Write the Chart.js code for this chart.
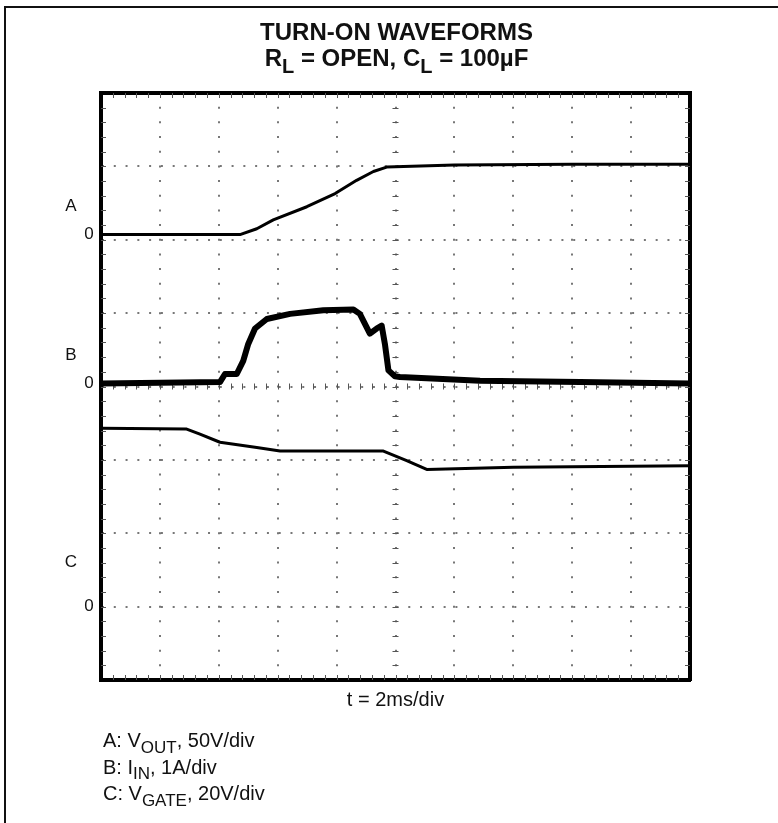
<!DOCTYPE html>
<html lang="en">
<head>
<meta charset="UTF-8">
<title>Turn-On Waveforms</title>
<script src="https://cdn.jsdelivr.net/npm/chart.js"></script>
<style>
  body { margin: 0; background: #fff; }
  .frame { position: absolute; left: 4px; top: 6px; width: 790px; height: 830px; border-left: 2px solid #111; border-top: 2px solid #111; }
  #scope { position: absolute; left: 0; top: 0; }
</style>
</head>
<body>
<div class="frame"></div>
<canvas id="scope" width="778" height="823"></canvas>
<script>
// x = time in ms (2ms/div, 10 div), y = screen divisions (0 = bottom, 8 = top)
const timeA  = [0, 4.72, 5.29, 5.85, 6.99, 7.95, 8.68, 9.25, 9.70, 12.0, 16.0, 20];
const levelA = [6.07, 6.07, 6.15, 6.27, 6.45, 6.63, 6.81, 6.93, 6.99, 7.02, 7.03, 7.03];

const timeB  = [0, 4.04, 4.21, 4.61, 4.83, 5.0, 5.23, 5.63, 6.42, 7.55, 8.57, 8.79, 9.13, 9.36, 9.53, 9.64, 9.76, 9.98, 10.15, 12.87, 16.27, 20];
const levelB = [4.04, 4.06, 4.17, 4.17, 4.35, 4.58, 4.79, 4.92, 4.99, 5.04, 5.05, 4.99, 4.72, 4.79, 4.83, 4.58, 4.22, 4.14, 4.13, 4.08, 4.06, 4.04];

const timeC  = [0, 2.91, 3.36, 4.04, 5.29, 6.08, 9.59, 10.38, 11.06, 14.0, 20];
const levelC = [3.43, 3.42, 3.35, 3.24, 3.17, 3.12, 3.12, 2.99, 2.87, 2.90, 2.92];

const channels     = ['A', 'B', 'C'];
const zeroLevels   = [6.07, 4.04, 1.0];
const letterLevels = [6.45, 4.42, 1.6];

const xMax = 20, xStep = 2;   // 2ms/div
const yMax = 8,  yStep = 1;

// [text, subscript?]
const titleLines = [
  [['TURN-ON WAVEFORMS', false]],
  [['R', false], ['L', true], [' = OPEN, C', false], ['L', true], [' = 100µF', false]]
];
const legendLines = [
  [['A: V', false], ['OUT', true], [', 50V/div', false]],
  [['B: I', false], ['IN', true], [', 1A/div', false]],
  [['C: V', false], ['GATE', true], [', 20V/div', false]]
];

const FONT = '"Liberation Sans", Arial, sans-serif';

function toPoints(xs, ys) {
  return xs.map((x, i) => ({ x: x, y: ys[i] }));
}

function drawRich(ctx, parts, x, y, size, weight, align, subRatio) {
  const subSize = Math.round(size * (subRatio || 0.82));
  let w = 0;
  parts.forEach(p => {
    ctx.font = weight + ' ' + (p[1] ? subSize : size) + 'px ' + FONT;
    w += ctx.measureText(p[0]).width;
  });
  let cx = align === 'center' ? x - w / 2 : x;
  ctx.textAlign = 'left';
  ctx.textBaseline = 'alphabetic';
  parts.forEach(p => {
    ctx.font = weight + ' ' + (p[1] ? subSize : size) + 'px ' + FONT;
    ctx.fillText(p[0], cx, p[1] ? y + size * 0.28 : y);
    cx += ctx.measureText(p[0]).width;
  });
}

const scopeDecor = {
  id: 'scopeDecor',
  beforeDatasetsDraw(chart) {
    const ctx = chart.ctx;
    const xs = chart.scales.x, ys = chart.scales.y;
    const a = chart.chartArea;
    const cx = xs.getPixelForValue(xMax / 2), cy = ys.getPixelForValue(yMax / 2);
    ctx.save();
    ctx.strokeStyle = '#555';
    ctx.lineWidth = 1;
    ctx.beginPath();
    for (let i = 1; i < 50; i++) {
      const px = Math.round(xs.getPixelForValue(i * xStep / 5)) + 0.5;
      ctx.moveTo(px, a.top); ctx.lineTo(px, a.top + 5);
      ctx.moveTo(px, a.bottom); ctx.lineTo(px, a.bottom - 5);
      ctx.moveTo(px, cy - 3); ctx.lineTo(px, cy + 3);
    }
    for (let i = 1; i < 40; i++) {
      const py = Math.round(ys.getPixelForValue(i * yStep / 5)) + 0.5;
      ctx.moveTo(a.left, py); ctx.lineTo(a.left + 5, py);
      ctx.moveTo(a.right, py); ctx.lineTo(a.right - 5, py);
      ctx.moveTo(cx - 3, py); ctx.lineTo(cx + 3, py);
    }
    ctx.stroke();
    ctx.restore();
  },
  afterDraw(chart) {
    const ctx = chart.ctx;
    const ys = chart.scales.y;
    const a = chart.chartArea;
    const mid = (a.left + a.right) / 2;
    ctx.save();
    ctx.fillStyle = '#111';
    drawRich(ctx, titleLines[0], mid + 1, 40, 24, 'bold', 'center');
    drawRich(ctx, titleLines[1], mid + 1, 66, 24, 'bold', 'center');

    ctx.font = '17px ' + FONT;
    ctx.textAlign = 'center';
    ctx.textBaseline = 'middle';
    channels.forEach((name, i) => {
      ctx.fillText(name, a.left - 30, ys.getPixelForValue(letterLevels[i]));
      ctx.fillText('0', a.left - 12, ys.getPixelForValue(zeroLevels[i]));
    });

    legendLines.forEach((line, i) => {
      drawRich(ctx, line, a.left + 2, 747 + i * 26.5, 20, 'normal', 'left', 0.85);
    });
    ctx.restore();
  }
};

const dotGrid = (count, axis) => ctx => {
  const area = ctx.chart.chartArea;
  const len = axis === 'y' ? area.bottom - area.top : area.right - area.left;
  const gap = len / (count * 5);
  return [2, gap - 2];
};

new Chart(document.getElementById('scope'), {
  type: 'line',
  data: {
    datasets: [
      { label: 'A', data: toPoints(timeA, levelA), borderColor: '#000', borderWidth: 3 },
      { label: 'B', data: toPoints(timeB, levelB), borderColor: '#000', borderWidth: 6 },
      { label: 'C', data: toPoints(timeC, levelC), borderColor: '#000', borderWidth: 3 }
    ]
  },
  options: {
    responsive: false,
    animation: false,
    events: [],
    layout: { padding: { left: 101, top: 93, right: 88, bottom: 107 } },
    elements: { point: { radius: 0 }, line: { tension: 0, borderJoinStyle: 'round', borderCapStyle: 'round' } },
    plugins: { legend: { display: false }, tooltip: { enabled: false } },
    scales: {
      x: {
        type: 'linear', min: 0, max: xMax,
        ticks: { display: false, stepSize: xStep },
        grid: { color: '#777', lineWidth: 2, drawTicks: false },
        border: { color: '#000', width: 4, dash: dotGrid(8, 'y'), dashOffset: 1 },
        title: { display: true, text: 't = 2ms/div', color: '#111', font: { family: FONT, size: 20 }, padding: { top: 8, bottom: 4 } }
      },
      y: {
        type: 'linear', min: 0, max: yMax,
        ticks: { display: false, stepSize: yStep },
        grid: { color: '#777', lineWidth: 2, drawTicks: false },
        border: { color: '#000', width: 4, dash: dotGrid(10, 'x'), dashOffset: 1 }
      },
      x2: {
        type: 'linear', position: 'top', min: 0, max: xMax,
        ticks: { display: false }, grid: { display: false, drawTicks: false },
        border: { color: '#000', width: 4 }
      },
      y2: {
        type: 'linear', position: 'right', min: 0, max: yMax,
        ticks: { display: false }, grid: { display: false, drawTicks: false },
        border: { color: '#000', width: 4 }
      }
    }
  },
  plugins: [scopeDecor]
});
</script>
</body>
</html>
